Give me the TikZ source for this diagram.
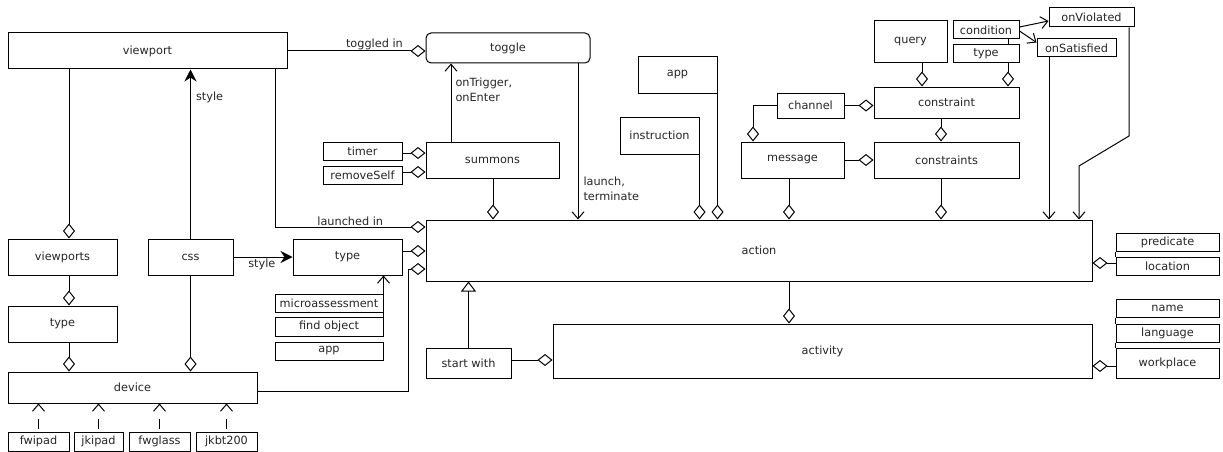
\documentclass[tikz,border=0pt]{standalone}
\usepackage{fontspec}
\setmainfont{DejaVu Sans}
\usetikzlibrary{arrows.meta,calc}
\definecolor{txt}{HTML}{262626}
\begin{document}
\begin{tikzpicture}[x=1pt,y=-1pt,
  font=\fontsize{11.3}{15}\selectfont,
  box/.style={draw, line width=1pt, fill=white, inner sep=0pt, text=txt},
  ln/.style={line width=1pt},
  agg/.style={ln, -{Diamond[open,length=15pt,width=12pt]}},
  opn/.style={ln, -{Straight Barb[length=7pt,width=12pt]}},
  fil/.style={ln, -{Stealth[length=12pt,width=12pt,inset=4pt]}},
  gen/.style={ln, -{Triangle[open,length=10pt,width=15pt]}},
  dsh/.style={opn, dash pattern=on 10pt off 30pt, dash phase=37pt},
  lbl/.style={text=txt, inner sep=1pt}]
\useasboundingbox (0,0) rectangle (1223,452);
% nodes
\node[box, minimum width=279pt, minimum height=36pt] (viewport) at (147.5,51) {viewport};
\node[box, rounded corners=5pt, minimum width=164pt, minimum height=30pt] (toggle) at (508,48) {toggle};
\node[box, minimum width=79pt, minimum height=18pt] (timer) at (362.5,151) {timer};
\node[box, minimum width=79pt, minimum height=18pt] (removeSelf) at (362.5,175) {removeSelf};
\node[box, minimum width=133pt, minimum height=36pt] (summons) at (492.5,160) {summons};
\node[box, minimum width=79pt, minimum height=36pt] (appA) at (677.5,75) {app};
\node[box, minimum width=79pt, minimum height=37pt] (instruction) at (659.5,135.5) {instruction};
\node[box, minimum width=67pt, minimum height=25pt] (channel) at (810.5,105.5) {channel};
\node[box, minimum width=103pt, minimum height=36pt] (message) at (792.5,160) {message};
\node[box, minimum width=73pt, minimum height=42pt] (query) at (910.5,42) {query};
\node[box, minimum width=66pt, minimum height=18pt] (condition) at (986,30) {condition};
\node[box, minimum width=66pt, minimum height=18pt] (typeS) at (986,54) {type};
\node[box, minimum width=145pt, minimum height=31pt] (constraint) at (946.5,102.5) {constraint};
\node[box, minimum width=145pt, minimum height=36pt] (constraints) at (946.5,160) {constraints};
\node[box, minimum width=85pt, minimum height=19pt] (onViolated) at (1091.5,17.5) {onViolated};
\node[box, minimum width=79pt, minimum height=18pt] (onSatisfied) at (1076.5,48) {onSatisfied};
\node[box, minimum width=666pt, minimum height=61pt] (action) at (759,250.5) {action};
\node[box, minimum width=103pt, minimum height=18pt] (predicate) at (1167.5,242) {predicate};
\node[box, minimum width=103pt, minimum height=18pt] (location) at (1167.5,266) {location};
\node[box, minimum width=103pt, minimum height=18pt] (name) at (1167.5,308) {name};
\node[box, minimum width=103pt, minimum height=18pt] (language) at (1167.5,333) {language};
\node[box, minimum width=103pt, minimum height=30pt] (workplace) at (1167.5,363) {workplace};
\node[box, minimum width=539pt, minimum height=54pt] (activity) at (822.5,351) {activity};
\node[box, minimum width=85pt, minimum height=30pt] (startwith) at (468.5,363) {start with};
\node[box, minimum width=109pt, minimum height=36pt] (viewports) at (62.5,257) {viewports};
\node[box, minimum width=109pt, minimum height=36pt] (typeL) at (62.5,324) {type};
\node[box, minimum width=249pt, minimum height=31pt] (device) at (132.5,387.5) {device};
\node[box, minimum width=85pt, minimum height=36pt] (css) at (190.5,257) {css};
\node[box, minimum width=109pt, minimum height=36pt] (typeM) at (347.5,257) {type};
\node[box, minimum width=108pt, minimum height=18pt] (micro) at (329,303) {microassessment};
\node[box, minimum width=108pt, minimum height=19pt] (findobj) at (329,326.5) {find object};
\node[box, minimum width=108pt, minimum height=18pt] (appB) at (329,351) {app};
\node[box, minimum width=61pt, minimum height=19pt] (fwipad) at (38.5,441.5) {fwipad};
\node[box, minimum width=49pt, minimum height=19pt] (jkipad) at (98.5,441.5) {jkipad};
\node[box, minimum width=61pt, minimum height=19pt] (fwglass) at (159.5,441.5) {fwglass};
\node[box, minimum width=61pt, minimum height=19pt] (jkbt) at (226.5,441.5) {jkbt200};
% helper coordinates
\coordinate (c69) at (69,0);
\coordinate (c275) at (275,0);
\coordinate (c408) at (408,0);
\coordinate (c451) at (451,0);
\coordinate (c493) at (493,0);
\coordinate (c578) at (578,0);
\coordinate (c753) at (753,0);
\coordinate (c789) at (789,0);
\coordinate (c922) at (922,0);
\coordinate (c941) at (941,0);
\coordinate (c1008) at (1008,0);
\coordinate (c1049) at (1049,0);
\coordinate (c1079) at (1079,0);
\coordinate (c1129) at (1129,0);
\coordinate (r51) at (0,51);
\coordinate (r136) at (0,136);
\coordinate (r153) at (0,153);
\coordinate (r166) at (0,166);
\coordinate (r172) at (0,172);
\coordinate (r227) at (0,227);
\coordinate (r251) at (0,251);
\coordinate (r263) at (0,263);
\coordinate (r269) at (0,269);
\coordinate (r360) at (0,360);
\coordinate (r366) at (0,366);
\coordinate (r391) at (0,391);
% connectors
\draw[agg] (viewport.east |- r51) -- node[lbl, above, pos=0.63] {toggled in} (toggle.west |- r51);
\draw[agg] (viewport.south -| c69) -- (viewports.north -| c69);
\draw[agg] (viewports.south -| c69) -- (typeL.north -| c69);
\draw[agg] (typeL.south -| c69) -- (device.north -| c69);
\draw[agg] (css.south) -- (css.south |- device.north);
\draw[fil] (css.north) -- node[lbl, anchor=west, xshift=4pt, pos=0.835] {style} (css.north |- viewport.south);
\draw[fil] (css.east) -- node[lbl, below, pos=0.48] {style} (typeM.west);
\draw[agg] (viewport.south -| c275) -- (c275 |- r227) -- node[lbl, above, pos=0.5] {launched in} (action.west |- r227);
\draw[agg] (typeM.east |- r251) -- (action.west |- r251);
\draw[agg] (device.east |- r391) -- (c408 |- r391) -- (c408 |- r269) -- (action.west |- r269);
\draw[agg] (timer.east |- r153) -- (summons.west |- r153);
\draw[agg] (removeSelf.east |- r172) -- (summons.west |- r172);
\draw[opn] (summons.north -| c451) -- node[lbl, anchor=west, align=left, xshift=3pt, pos=0.66] {onTrigger,\\onEnter} (toggle.south -| c451);
\draw[agg] (summons.south -| c493) -- (action.north -| c493);
\draw[opn] (toggle.south -| c578) -- node[lbl, anchor=west, align=left, xshift=4pt, pos=0.8] {launch,\\terminate} (action.north -| c578);
\draw[agg] (instruction.south east) -- (instruction.south east |- action.north);
\draw[agg] (appA.south east) -- (appA.south east |- action.north);
\draw[agg] (message.south -| c789) -- (action.north -| c789);
\draw[agg] (channel.west) -- (channel.west -| c753) -- (message.north -| c753);
\draw[agg] (channel.east) -- (channel.east -| constraint.west);
\draw[agg] (message.east) -- (message.east -| constraints.west);
\draw[agg] (query.south -| c922) -- (constraint.north -| c922);
\draw[agg] (typeS.south -| c1008) -- (constraint.north -| c1008);
\draw[ln] (condition.south -| c1008) -- (typeS.north -| c1008);
\draw[agg] (constraint.south -| c941) -- (constraints.north -| c941);
\draw[agg] (constraints.south -| c941) -- (action.north -| c941);
\draw[opn] ([yshift=3pt]condition.east) -- ([yshift=-3.5pt]onViolated.west);
\draw[opn] ([yshift=-1pt]condition.east) -- ([yshift=-4pt]onSatisfied.north west);
\draw[opn] (onSatisfied.south -| c1049) -- (action.north -| c1049);
\draw[opn] (onViolated.south -| c1129) -- (c1129 |- r136) -- (c1079 |- r166) -- (action.north -| c1079);
\draw[agg] (action.south -| c789) -- (activity.north -| c789);
\draw[gen] (startwith.north) -- (startwith.north |- action.south);
\draw[agg] (startwith.east |- r360) -- (activity.west |- r360);
\draw[agg] (location.west |- r263) -- (action.east |- r263);
\draw[agg] (workplace.west |- r366) -- (activity.east |- r366);
\draw[ln] (predicate.south west) -- (location.north west);
\draw[ln] (name.south west) -- (language.north west);
\draw[ln] (language.south west) -- (workplace.north west);
\draw[opn] (micro.north east) -- (micro.north east |- typeM.south);
\draw[ln] (micro.south east) -- (findobj.north east);
\draw[dsh] (fwipad.north) -- (fwipad.north |- device.south);
\draw[dsh] (jkipad.north) -- (jkipad.north |- device.south);
\draw[dsh] (fwglass.north) -- (fwglass.north |- device.south);
\draw[dsh] (jkbt.north) -- (jkbt.north |- device.south);
\end{tikzpicture}
\end{document}
